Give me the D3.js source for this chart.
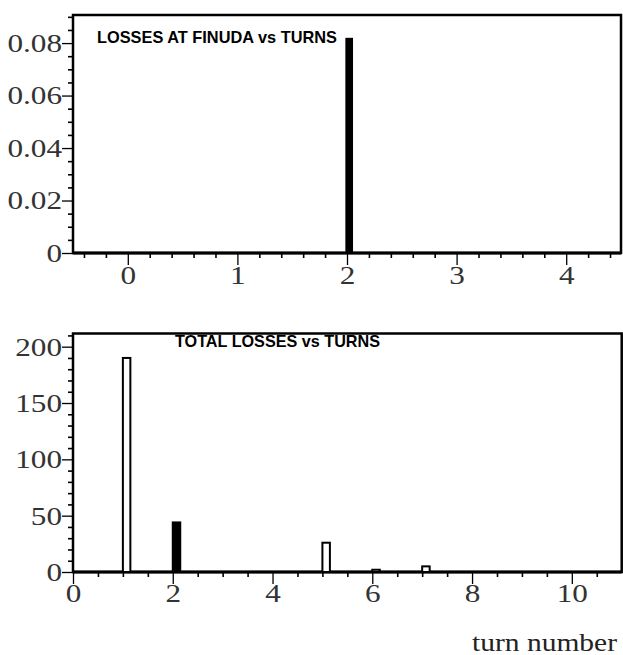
<!DOCTYPE html>
<html>
<head>
<meta charset="utf-8">
<script src="https://cdn.jsdelivr.net/npm/d3@7"></script>
<style>
  html, body { margin: 0; padding: 0; background: #fff; }
  svg { display: block; }
</style>
</head>
<body>
<svg id="chart" width="623" height="655"></svg>
<script>
// ---------- data ----------
const finudaTurns = [2];
const finudaLosses = [0.082];
const totalTurns = [1, 2, 5, 6, 7];
const totalLosses = [190, 44, 26, 2, 5];
const totalFilled = [false, true, false, false, false];
const topXTicks = [0, 1, 2, 3, 4];
const topYTicks = [0, 0.02, 0.04, 0.06, 0.08];
const topYTickLabels = ["0", "0.02", "0.04", "0.06", "0.08"];
const botXTicks = [0, 2, 4, 6, 8, 10];
const botYTicks = [0, 50, 100, 150, 200];
const topTitle = "LOSSES AT FINUDA vs TURNS";
const botTitle = "TOTAL LOSSES vs TURNS";
const xLabel = "turn number";

// ---------- layout ----------
const svg = d3.select("#chart");
const SX = 1.2;           // horizontal stretch of the serif labels
const labelFont = "'Liberation Serif', 'Times New Roman', serif";
const labelSize = 26;
const labelColor = "#333";

function panel(cfg) {
  const g = svg.append("g");
  const x = d3.scaleLinear().domain(cfg.xDomain).range([cfg.left, cfg.right]);
  const y = d3.scaleLinear().domain(cfg.yDomain).range([cfg.bottom, cfg.top]);

  // minor x ticks
  g.append("g").attr("transform", `translate(0,${cfg.bottom})`)
    .call(d3.axisBottom(x).tickValues(cfg.xMinor).tickSize(5).tickFormat(""))
    .call(s => { s.select(".domain").remove(); s.selectAll("line").attr("stroke", "#000").attr("stroke-width", 1.6); });
  // major x ticks
  const gx = g.append("g").attr("transform", `translate(0,${cfg.bottom})`)
    .call(d3.axisBottom(x).tickValues(cfg.xTicks).tickSize(12).tickPadding(cfg.xPad).tickFormat(d3.format("d")));
  gx.select(".domain").remove();
  gx.selectAll("line").attr("stroke", "#000").attr("stroke-width", 1.3);
  gx.selectAll("text").attr("font-family", labelFont).attr("font-size", labelSize)
    .attr("fill", labelColor).attr("transform", `scale(${SX},1)`);

  // minor y ticks
  g.append("g").attr("transform", `translate(${cfg.left},0)`)
    .call(d3.axisLeft(y).tickValues(cfg.yMinor).tickSize(5).tickFormat(""))
    .call(s => { s.select(".domain").remove(); s.selectAll("line").attr("stroke", "#000").attr("stroke-width", 1.6); });
  // major y ticks
  const gy = g.append("g").attr("transform", `translate(${cfg.left},0)`)
    .call(d3.axisLeft(y).tickValues(cfg.yTicks).tickSize(11).tickPadding(0)
      .tickFormat((d, i) => cfg.yLabels[i]));
  gy.select(".domain").remove();
  gy.selectAll("line").attr("stroke", "#000").attr("stroke-width", 1.3);
  gy.selectAll("text").attr("font-family", labelFont).attr("font-size", labelSize)
    .attr("fill", labelColor).attr("x", -11 / SX).attr("transform", `scale(${SX},1)`);

  // frame
  g.append("rect")
    .attr("x", cfg.left).attr("y", cfg.top)
    .attr("width", cfg.right - cfg.left).attr("height", cfg.bottom - cfg.top)
    .attr("fill", "none").attr("stroke", "#000").attr("stroke-width", 2.5);
  g.append("line").attr("x1", cfg.left).attr("x2", cfg.right)
    .attr("y1", cfg.bottom).attr("y2", cfg.bottom)
    .attr("stroke", "#000").attr("stroke-width", 3);

  // title
  g.append("text").attr("x", cfg.titleX).attr("y", cfg.titleY)
    .attr("font-family", "'Liberation Sans', Arial, sans-serif")
    .attr("font-weight", "bold").attr("font-size", 17)
    .attr("textLength", cfg.titleLen).attr("lengthAdjust", "spacingAndGlyphs")
    .attr("fill", "#000").text(cfg.title);
  return { g, x, y };
}

// ---------- top panel ----------
const p1 = panel({
  left: 73, right: 621, top: 15, bottom: 253,
  xDomain: [-0.5, 4.5], yDomain: [0, 0.0907],
  xTicks: topXTicks, xMinor: d3.range(-0.4, 4.5, 0.2).filter(v => Math.abs(v - Math.round(v)) > 1e-6),
  yTicks: topYTicks, yLabels: topYTickLabels,
  yMinor: d3.range(0.005, 0.0907, 0.005).filter(v => Math.abs(v / 0.02 - Math.round(v / 0.02)) > 1e-6),
  xPad: 1,
  title: topTitle, titleX: 97, titleY: 43, titleLen: 240
});
const bw1 = 0.07;
p1.g.selectAll("rect.bar").data(finudaTurns).join("rect").attr("class", "bar")
  .attr("x", d => p1.x(d - 0.015))
  .attr("width", p1.x(bw1) - p1.x(0))
  .attr("y", (d, i) => p1.y(finudaLosses[i]))
  .attr("height", (d, i) => p1.y(0) - p1.y(finudaLosses[i]))
  .attr("fill", "#000");

// ---------- bottom panel ----------
const p2 = panel({
  left: 73, right: 621.7, top: 333.5, bottom: 572,
  xDomain: [0, 11], yDomain: [0, 211.7],
  xTicks: botXTicks, xMinor: d3.range(0.5, 11, 0.5).filter(v => Math.abs(v / 2 - Math.round(v / 2)) > 1e-6),
  yTicks: botYTicks, yLabels: botYTicks.map(String),
  yMinor: d3.range(10, 211, 10).filter(v => v % 50 !== 0),
  xPad: 0,
  title: botTitle, titleX: 175, titleY: 347, titleLen: 205
});
const bw2 = 0.15;
p2.g.selectAll("rect.bar").data(totalTurns).join("rect").attr("class", "bar")
  .attr("x", d => p2.x(d))
  .attr("width", p2.x(bw2) - p2.x(0))
  .attr("y", (d, i) => p2.y(totalLosses[i]))
  .attr("height", (d, i) => p2.y(0) - p2.y(totalLosses[i]))
  .attr("fill", (d, i) => totalFilled[i] ? "#000" : "#fff")
  .attr("stroke", "#000").attr("stroke-width", 2);

// x label
svg.append("text")
  .attr("transform", `translate(617,651) scale(1.18,1)`)
  .attr("text-anchor", "end")
  .attr("font-family", labelFont).attr("font-size", 25)
  .attr("fill", "#222").text(xLabel);
</script>
</body>
</html>
